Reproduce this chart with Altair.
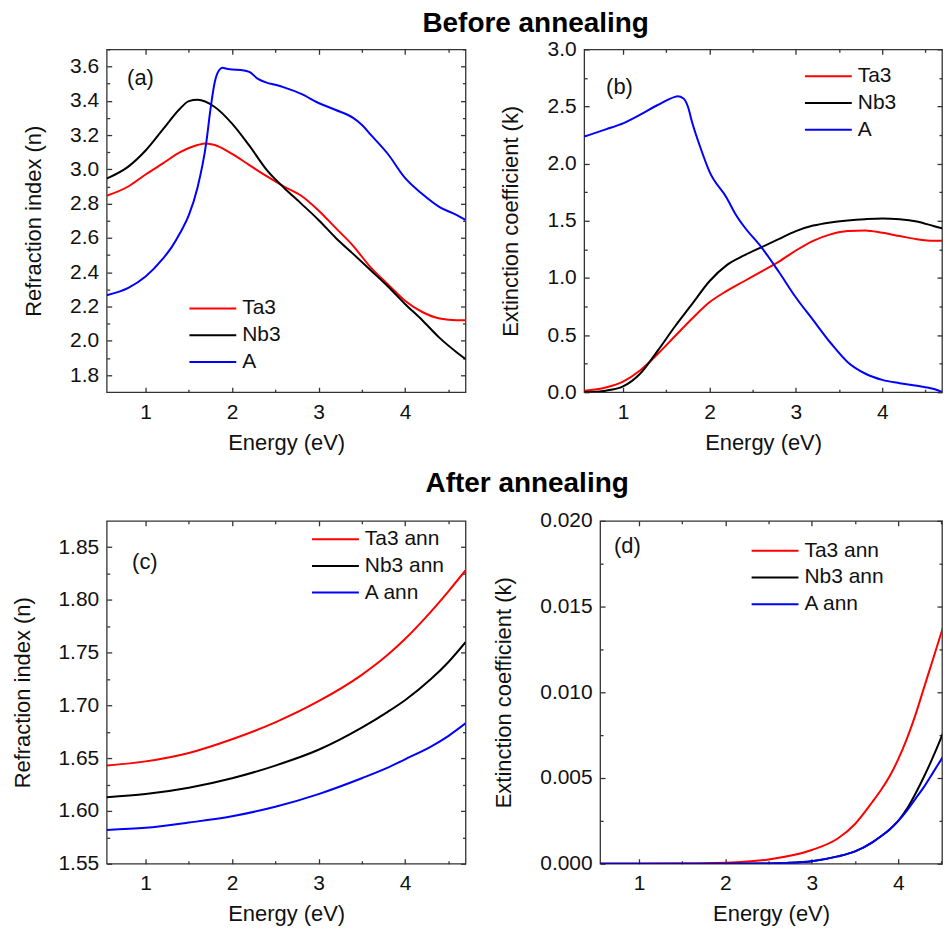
import altair as alt
import pandas as pd

FONT = "Liberation Sans"
NAMES_BEFORE = ["Ta3", "Nb3", "A"]
NAMES_AFTER = ["Ta3 ann", "Nb3 ann", "A ann"]
COLORS = ["#ff0000", "#000000", "#0000ff"]
X_MAJOR = [1, 2, 3, 4]
X_MINOR = [1.5, 2.5, 3.5, 4.5]

# ---- panel (a): refraction index before annealing ----
a_ta3_E = [0.55, 0.8, 1.0, 1.2, 1.4, 1.6, 1.7, 1.8, 2.0, 2.2, 2.4, 2.6, 2.8, 3.0, 3.2, 3.4, 3.6, 3.8, 4.0, 4.2, 4.4, 4.6, 4.7]
a_ta3_n = [2.846, 2.90, 2.97, 3.035, 3.10, 3.142, 3.151, 3.142, 3.09, 3.025, 2.96, 2.90, 2.846, 2.76, 2.657, 2.554, 2.43, 2.33, 2.234, 2.168, 2.13, 2.12, 2.12]
a_nb3_E = [0.55, 0.8, 1.0, 1.2, 1.4, 1.5, 1.6, 1.8, 2.0, 2.2, 2.4, 2.6, 2.8, 3.0, 3.2, 3.4, 3.6, 3.8, 4.0, 4.2, 4.4, 4.6, 4.7]
a_nb3_n = [2.946, 3.016, 3.11, 3.233, 3.355, 3.398, 3.406, 3.364, 3.267, 3.138, 2.997, 2.893, 2.80, 2.705, 2.60, 2.507, 2.413, 2.318, 2.215, 2.12, 2.017, 1.932, 1.894]
a_A_E = [0.55, 0.8, 1.0, 1.2, 1.3, 1.4, 1.5, 1.6, 1.7, 1.75, 1.8, 1.85, 1.89, 1.95, 2.0, 2.1, 2.2, 2.3, 2.4, 2.5, 2.6, 2.8, 3.0, 3.2, 3.4, 3.5, 3.6, 3.8, 4.0, 4.2, 4.4, 4.6, 4.7]
a_A_n = [2.266, 2.309, 2.375, 2.479, 2.545, 2.63, 2.733, 2.893, 3.15, 3.35, 3.51, 3.578, 3.592, 3.585, 3.582, 3.58, 3.568, 3.528, 3.506, 3.493, 3.478, 3.44, 3.387, 3.346, 3.30, 3.26, 3.204, 3.091, 2.95, 2.856, 2.78, 2.733, 2.705]

# ---- panel (b): extinction coefficient before annealing ----
b_ta3_E = [0.55, 0.8, 1.0, 1.2, 1.4, 1.6, 1.8, 2.0, 2.2, 2.4, 2.6, 2.8, 3.0, 3.2, 3.4, 3.6, 3.8, 4.0, 4.2, 4.4, 4.6, 4.7]
b_ta3_k = [0.014, 0.042, 0.093, 0.192, 0.334, 0.49, 0.645, 0.787, 0.886, 0.971, 1.056, 1.141, 1.24, 1.325, 1.381, 1.41, 1.415, 1.395, 1.367, 1.339, 1.325, 1.325]
b_nb3_E = [0.55, 0.8, 1.0, 1.2, 1.4, 1.6, 1.8, 2.0, 2.2, 2.4, 2.6, 2.8, 3.0, 3.2, 3.4, 3.6, 3.8, 4.0, 4.2, 4.4, 4.6, 4.7]
b_nb3_k = [0.0, 0.014, 0.051, 0.164, 0.362, 0.575, 0.773, 0.971, 1.112, 1.197, 1.268, 1.339, 1.41, 1.458, 1.486, 1.503, 1.514, 1.52, 1.514, 1.494, 1.452, 1.432]
b_A_E = [0.55, 0.8, 1.0, 1.2, 1.4, 1.6, 1.63, 1.7, 1.75, 1.8, 1.9, 2.0, 2.2, 2.3, 2.4, 2.6, 2.8, 3.0, 3.2, 3.4, 3.6, 3.8, 4.0, 4.2, 4.4, 4.6, 4.7]
b_A_k = [2.236, 2.30, 2.352, 2.428, 2.513, 2.584, 2.59, 2.57, 2.50, 2.36, 2.13, 1.93, 1.70, 1.56, 1.45, 1.27, 1.056, 0.829, 0.631, 0.433, 0.263, 0.164, 0.108, 0.079, 0.057, 0.028, 0.0]

# ---- panel (c): refraction index after annealing ----
c_E = [0.55, 1.0, 1.5, 2.0, 2.5, 3.0, 3.5, 3.8, 4.0, 4.3, 4.5, 4.7]
c_ta3_n = [1.643, 1.647, 1.655, 1.668, 1.684, 1.704, 1.729, 1.748, 1.763, 1.789, 1.808, 1.828]
c_nb3_n = [1.613, 1.616, 1.622, 1.631, 1.643, 1.658, 1.679, 1.694, 1.705, 1.725, 1.741, 1.760]
c_A_n = [1.582, 1.584, 1.589, 1.595, 1.604, 1.616, 1.631, 1.641, 1.649, 1.661, 1.671, 1.683]

# ---- panel (d): extinction coefficient after annealing ----
d_ta3_E = [0.55, 1.0, 1.5, 2.0, 2.5, 3.0, 3.3, 3.5, 3.7, 3.8, 3.9, 4.0, 4.1, 4.2, 4.3, 4.4, 4.5, 4.6, 4.7]
d_ta3_k = [0, 0, 0.00001, 0.00006, 0.00025, 0.0008, 0.00147, 0.00232, 0.0036, 0.0043, 0.0051, 0.0061, 0.0073, 0.0087, 0.0103, 0.0119, 0.0135, 0.0150, 0.0165]
d_E = [0.55, 1.0, 1.5, 2.0, 2.5, 2.7, 3.0, 3.3, 3.5, 3.7, 3.8, 3.9, 4.0, 4.1, 4.2, 4.3, 4.4, 4.5, 4.6, 4.7]
d_nb3_k = [0, 0, 0, 0, 0.00002, 0.00005, 0.00015, 0.00043, 0.00072, 0.00125, 0.0016, 0.0020, 0.0025, 0.0032, 0.0041, 0.0051, 0.0062, 0.0074, 0.0087, 0.0098]
d_A_k = [0, 0, 0, 0, 0.00002, 0.00005, 0.00015, 0.00043, 0.00072, 0.00125, 0.0016, 0.0020, 0.0025, 0.0031, 0.0038, 0.0045, 0.0053, 0.0061, 0.0069, 0.0077]


def make_df(series):
    rows = []
    for name, es, vs in series:
        for e, v in zip(es, vs):
            rows.append({"E": e, "v": v, "s": name})
    return pd.DataFrame(rows)


AX = dict(domain=False, grid=False, tickColor="#333333", tickWidth=1.3,
          labelFont=FONT, titleFont=FONT, labelFontSize=21, titleFontSize=22,
          labelColor="#111111", titleColor="#111111", titleFontWeight="normal",
          labelOverlap=False, labelFlush=False)

H = 344


def panel(df, names, xmax, width, ydom, ymaj, ymin, yfmt, ytitle, yext, label,
          lab_xy, leg_xy, left_ghost_ext=0):
    xs = alt.Scale(domain=[0.55, xmax], nice=False, zero=False)
    ys = alt.Scale(domain=ydom, nice=False, zero=False)
    base = alt.Chart(df)
    lines = base.mark_line(strokeWidth=2, clip=True, interpolate="monotone").encode(
        x=alt.X("E:Q", scale=xs, axis=alt.Axis(
            orient="bottom", values=X_MAJOR, format="d", title="Energy (eV)",
            offset=-5, tickSize=5, labelPadding=9, titlePadding=10, **AX)),
        y=alt.Y("v:Q", scale=ys, axis=alt.Axis(
            orient="left", values=ymaj, format=yfmt, title=ytitle,
            offset=-5, tickSize=5, labelPadding=8, titlePadding=5,
            minExtent=yext, maxExtent=yext, **AX)),
        color=alt.Color("s:N", scale=alt.Scale(domain=names, range=COLORS),
                        legend=alt.Legend(
                            orient="none", legendX=leg_xy[0], legendY=leg_xy[1],
                            title=None, symbolType="M-2.35,0L2.35,0", symbolSize=400,
                            symbolStrokeWidth=2, labelFont=FONT, labelFontSize=21,
                            labelColor="#111111", labelOffset=18.5, rowPadding=5.8,
                            padding=0, offset=0)),
    )

    def ghost(xo, yo, xv, yv, size, yminext=0):
        return base.mark_line(opacity=0, clip=True).encode(
            x=alt.X("E:Q", scale=xs, axis=alt.Axis(
                orient=xo, values=xv, offset=-size, tickSize=size, labels=False,
                title=None, minExtent=0, maxExtent=size, **AX)),
            y=alt.Y("v:Q", scale=ys, axis=alt.Axis(
                orient=yo, values=yv, offset=-size, tickSize=size, labels=False,
                title=None, minExtent=yminext, maxExtent=max(size, yminext), **AX)),
        )

    txt = alt.Chart(pd.DataFrame({"t": [label]})).mark_text(
        align="left", baseline="middle", font=FONT, fontSize=22, color="#111111"
    ).encode(x=alt.value(lab_xy[0]), y=alt.value(lab_xy[1]), text="t:N")

    return alt.layer(
        lines,
        ghost("bottom", "left", X_MINOR, ymin, 3, left_ghost_ext),
        ghost("top", "right", X_MAJOR, ymaj, 5),
        ghost("top", "right", X_MINOR, ymin, 3),
        txt,
    ).resolve_axis(x="independent", y="independent").properties(width=width, height=H)


df_a = make_df([("Ta3", a_ta3_E, a_ta3_n), ("Nb3", a_nb3_E, a_nb3_n), ("A", a_A_E, a_A_n)])
df_b = make_df([("Ta3", b_ta3_E, b_ta3_k), ("Nb3", b_nb3_E, b_nb3_k), ("A", b_A_E, b_A_k)])
df_c = make_df([("Ta3 ann", c_E, c_ta3_n), ("Nb3 ann", c_E, c_nb3_n), ("A ann", c_E, c_A_n)])
df_d = make_df([("Ta3 ann", d_ta3_E, d_ta3_k), ("Nb3 ann", d_E, d_nb3_k), ("A ann", d_E, d_A_k)])

PX = 86.7  # pixels per eV in the reference

pa = panel(df_a, NAMES_BEFORE, 4.7, 360, [1.7, 3.7],
           [1.8, 2.0, 2.2, 2.4, 2.6, 2.8, 3.0, 3.2, 3.4, 3.6],
           [1.9, 2.1, 2.3, 2.5, 2.7, 2.9, 3.1, 3.3, 3.5, 3.7],
           ".1f", "Refraction index (n)", 61, "(a)", (20.5, 28.5), (95.5, 249),
           left_ghost_ext=97)
pb = panel(df_b, NAMES_BEFORE, 0.55 + 359 / PX, 359, [0, 3.0],
           [0, 0.5, 1.0, 1.5, 2.0, 2.5, 3.0],
           [0.25, 0.75, 1.25, 1.75, 2.25, 2.75],
           ".1f", "Extinction coefficient (k)", 62, "(b)", (22, 37.5), (234, 16))
pc = panel(df_c, NAMES_AFTER, 4.7, 360, [1.55, 1.875],
           [1.55, 1.60, 1.65, 1.70, 1.75, 1.80, 1.85],
           [1.575, 1.625, 1.675, 1.725, 1.775, 1.825],
           ".2f", "Refraction index (n)", 72, "(c)", (25.5, 41), (218.5, 7.4))
pd_ = panel(df_d, NAMES_AFTER, 0.55 + 343 / PX, 343, [0, 0.02],
            [0, 0.005, 0.010, 0.015, 0.020],
            [0.0025, 0.0075, 0.0125, 0.0175],
            ".3f", "Extinction coefficient (k)", 85, "(d)", (14, 25.5), (164.5, 19))

row1 = alt.hconcat(pa, pb, spacing=119, bounds="flush", title=alt.TitleParams(
    "Before annealing", font=FONT, fontSize=28, fontWeight="bold", color="#000000",
    anchor="middle", frame="bounds", offset=0, dx=58)).resolve_scale(color="independent")
row2 = alt.hconcat(pc, pd_, spacing=135, bounds="flush", title=alt.TitleParams(
    "After annealing", font=FONT, fontSize=28, fontWeight="bold", color="#000000",
    anchor="middle", frame="bounds", offset=11, dx=50)).resolve_scale(color="independent")

chart = alt.vconcat(row1, row2, spacing=16).resolve_scale(color="independent").properties(
    padding={"left": 3, "top": 0, "right": 0, "bottom": 0}
).configure_view(stroke="#333333", strokeWidth=1.3)

chart.save("out.html", embed_options={"renderer": "svg", "actions": False})
